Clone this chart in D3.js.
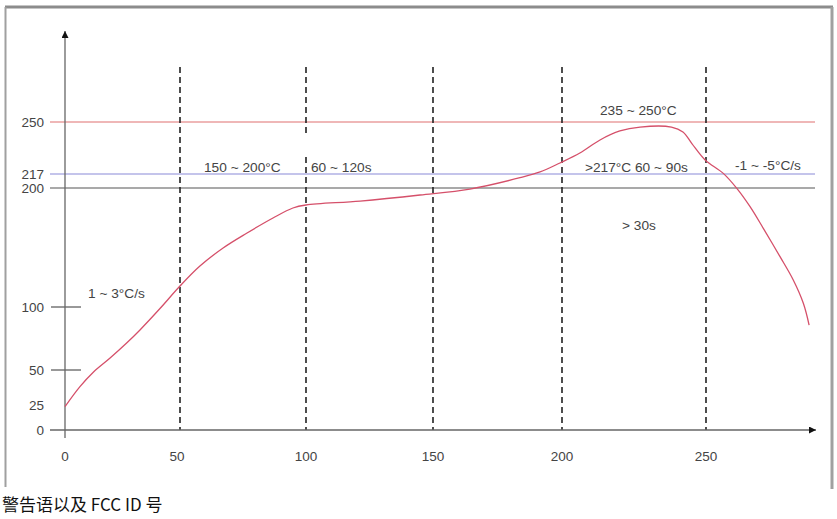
<!DOCTYPE html>
<html>
<head>
<meta charset="utf-8">
<script src="https://cdn.jsdelivr.net/npm/d3@7"></script>
<style>
  body { margin: 0; background: #fff; }
  svg { display: block; }
</style>
</head>
<body>
<script>
// reflow profile (time s, temp °C)
const time = [0, 6.5, 12.3, 19.6, 26.8, 32.6, 41.3, 50, 57.9, 67.1, 76.6, 86.9, 94.8, 100, 121.3, 144.9,
  164.3, 183.7, 191.5, 199.2, 206.2, 213.2, 220.1, 227.1, 238, 242, 245.1, 249.7, 256,
  260.7, 265.3, 269.9, 275.7, 280.3, 283.8, 285.8]
const temp = [23.3, 38.1, 48.4, 59.5, 71.4, 81.8, 98.8, 117.6, 134.4, 149.6, 162.2, 174.8, 183.2, 185.7, 189, 194.1,
  199.1, 212.5, 218.3, 224, 230.3, 238.6, 244.3, 246.8, 246.8, 243.7, 236.3, 225.9, 217.4,
  199.7, 184.3, 166.1, 142.3, 122.7, 103.1, 85.7]

const xTicks = [0, 50, 100, 150, 200, 250]
const yTicks = [0, 25, 50, 100, 200, 217, 250]
const zoneEdges = [50, 100, 150, 200, 250]
const limitTemps = [250, 217, 200]
const notes = ["1 ~ 3°C/s", "150 ~ 200°C", "60 ~ 120s", "235 ~ 250°C", ">217°C  60 ~ 90s", "-1 ~ -5°C/s", "> 30s"]
const footer = "警告语以及 FCC ID 号"

const width = 837, height = 519
const font = "'Liberation Sans', Arial, sans-serif"

// the original axes are not evenly spaced, so both scales are piecewise
let x = d3.scaleLinear()
  .domain(xTicks)
  .range([65, 180, 306, 433, 562, 706])

let y = d3.scaleLinear()
  .domain(yTicks)
  .range([430, 405, 370, 307, 188, 174, 122])

const svg = d3.select("body").append("svg")
  .attr("width", width)
  .attr("height", height)

// frame
svg.append("line").attr("x1", 5).attr("x2", 833).attr("y1", 7).attr("y2", 7)
  .attr("stroke", "#8c8c8c").attr("stroke-width", 3)
svg.append("line").attr("x1", 5.5).attr("x2", 5.5).attr("y1", 7).attr("y2", 487)
  .attr("stroke", "#a0a0a0").attr("stroke-width", 2)
svg.append("line").attr("x1", 832).attr("x2", 832).attr("y1", 7).attr("y2", 489)
  .attr("stroke", "#a0a0a0").attr("stroke-width", 3)

const defs = svg.append("defs")
defs.append("marker").attr("id", "arrow")
  .attr("viewBox", "0 0 10 10").attr("refX", 10).attr("refY", 5)
  .attr("markerWidth", 7).attr("markerHeight", 7).attr("markerUnits", "userSpaceOnUse")
  .attr("orient", "auto")
  .append("path").attr("d", "M0,0L10,5L0,10Z").attr("fill", "#111")

// limit lines
const limitColor = {250: "#e07070", 217: "#8a8ad8", 200: "#555"}
svg.append("g").selectAll("line").data(limitTemps).join("line")
  .attr("x1", 50).attr("x2", 815)
  .attr("y1", d => y(d)).attr("y2", d => y(d))
  .attr("stroke", d => limitColor[d]).attr("stroke-width", 1.2)

// short ticks at 50 and 100
svg.append("g").selectAll("line").data([50, 100]).join("line")
  .attr("x1", 51).attr("x2", 81)
  .attr("y1", d => y(d)).attr("y2", d => y(d))
  .attr("stroke", "#333").attr("stroke-width", 1)

// zone boundaries
svg.append("g").selectAll("line").data(zoneEdges).join("line")
  .attr("x1", d => x(d)).attr("x2", d => x(d))
  .attr("y1", 67).attr("y2", 430)
  .attr("stroke", "#222").attr("stroke-width", 1.6)
  .attr("stroke-dasharray", "6,4")
// gap in the 100 s line behind the labels
svg.append("rect").attr("x", x(100) - 3).attr("y", 135).attr("width", 6).attr("height", 21).attr("fill", "#fff")

// axes with arrows
svg.append("line").attr("x1", 50).attr("x2", 816).attr("y1", y(0)).attr("y2", y(0))
  .attr("stroke", "#666").attr("stroke-width", 1.3).attr("marker-end", "url(#arrow)")
svg.append("line").attr("x1", x(0)).attr("x2", x(0)).attr("y1", 438).attr("y2", 31)
  .attr("stroke", "#666").attr("stroke-width", 1.3).attr("marker-end", "url(#arrow)")

// tick labels
svg.append("g").selectAll("text").data(yTicks).join("text")
  .attr("x", 44).attr("y", d => y(d)).attr("dy", "0.35em")
  .attr("text-anchor", "end")
  .attr("font-family", font).attr("font-size", 13.5).attr("fill", "#444")
  .text(d => d)

svg.append("g").selectAll("text").data(xTicks).join("text")
  .attr("x", d => x(d) - (d === 50 ? 3 : 0)).attr("y", 456).attr("dy", "0.35em")
  .attr("text-anchor", "middle")
  .attr("font-family", font).attr("font-size", 13.5).attr("fill", "#444")
  .text(d => d)

// profile curve
const line = d3.line()
  .x((d, i) => x(time[i]))
  .y((d, i) => y(temp[i]))
  .curve(d3.curveCatmullRom.alpha(0.5))

svg.append("path")
  .datum(time)
  .attr("fill", "none")
  .attr("stroke", "#d5506a")
  .attr("stroke-width", 1.3)
  .attr("d", line)

// annotations
const notePos = [[88, 298], [204, 172], [311, 172], [600, 115], [585, 172], [735, 170], [622, 230]]
svg.append("g").selectAll("text").data(notes).join("text")
  .attr("x", (d, i) => notePos[i][0]).attr("y", (d, i) => notePos[i][1])
  .attr("font-family", font).attr("font-size", 13.7).attr("fill", "#444")
  .text(d => d)

svg.append("text")
  .attr("x", 2).attr("y", 511)
  .attr("font-family", "'Noto Sans CJK SC', sans-serif").attr("font-size", 17).attr("fill", "#111")
  .text(footer)
</script>
</body>
</html>
